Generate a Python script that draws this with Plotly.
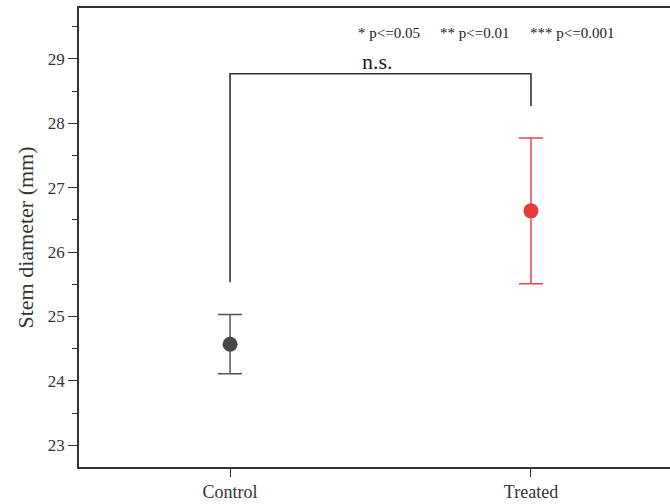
import plotly.graph_objects as go

# ---- data ----
groups = ["Control", "Treated"]
means = [24.57, 26.64]
errors = [0.46, 1.13]
marker_colors = ["#474747", "#ec3a3c"]
bar_colors = ["#555555", "#e9474b"]

bracket_x = [1, 1, 2, 2]
bracket_y = [25.53, 28.77, 28.77, 28.27]
sig_label = "n.s."
legend_texts = ["* p<=0.05", "** p<=0.01", "*** p<=0.001"]
y_ticks = [23, 24, 25, 26, 27, 28, 29]

FONT = "Liberation Serif, Times New Roman, serif"

fig = go.Figure()

for i, g in enumerate(groups):
    fig.add_trace(go.Scatter(
        x=[i + 1], y=[means[i]], mode="markers",
        marker=dict(size=15, color=marker_colors[i], line=dict(width=0)),
        error_y=dict(type="data", array=[errors[i]], visible=True,
                     color=bar_colors[i], thickness=1.5, width=12),
        showlegend=False, hoverinfo="skip",
    ))

fig.add_trace(go.Scatter(
    x=bracket_x, y=bracket_y, mode="lines",
    line=dict(color="#333333", width=1.6),
    showlegend=False, hoverinfo="skip",
))

fig.add_annotation(x=1.49, y=28.96, xref="x", yref="y", text=sig_label,
                   showarrow=False, font=dict(family=FONT, size=22, color="#222"),
                   xanchor="center", yanchor="middle")

legend_x = [1.419, 1.691, 1.990]
for t, lx in zip(legend_texts, legend_x):
    fig.add_annotation(x=lx, y=29.40, xref="x", yref="y", text=t,
                       showarrow=False, font=dict(family=FONT, size=15, color="#222"),
                       xanchor="left", yanchor="middle")

fig.update_xaxes(
    range=[0.498, 2.462], tickmode="array", tickvals=[1, 2], ticktext=groups,
    showline=True, linecolor="#333333", linewidth=1.5, mirror=True,
    ticks="outside", ticklen=8, tickwidth=1.3, tickcolor="#333333",
    showgrid=False, zeroline=False,
    tickfont=dict(family=FONT, size=18, color="#333333"),
)
fig.update_yaxes(
    range=[22.663, 29.79], tickvals=y_ticks,
    showline=True, linecolor="#333333", linewidth=1.5, mirror=False,
    ticks="outside", ticklen=9, tickwidth=1.3, tickcolor="#333333",
    minor=dict(dtick=0.5, ticks="outside", ticklen=5, tickwidth=1.3, tickcolor="#333333", showgrid=False),
    showgrid=False, zeroline=False,
    tickfont=dict(family=FONT, size=17, color="#333333"),
    title=dict(text="Stem diameter (mm)", font=dict(family=FONT, size=22, color="#333333"), standoff=8),
)

fig.update_layout(
    width=670, height=504,
    margin=dict(l=79, r=0, t=8, b=37),
    plot_bgcolor="white", paper_bgcolor="white",
)

fig.write_html("out.html", config={"displayModeBar": False},
               post_script="document.body.style.margin='0';document.body.style.overflow='hidden';")
